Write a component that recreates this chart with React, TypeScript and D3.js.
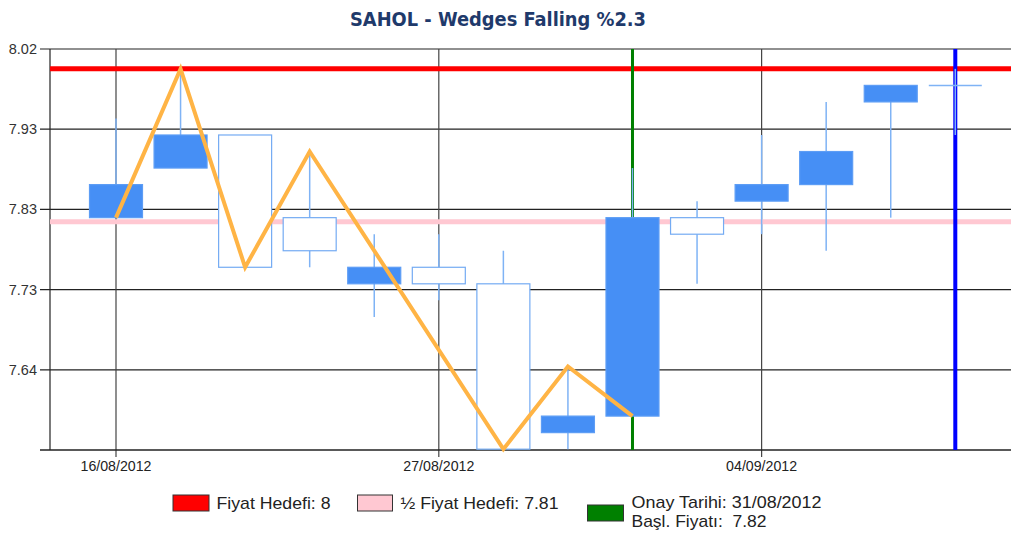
import React from "react";
import * as d3 from "d3";

const dates = [
  "16/08/2012", "17/08/2012", "22/08/2012", "23/08/2012", "24/08/2012",
  "27/08/2012", "28/08/2012", "29/08/2012", "31/08/2012", "03/09/2012",
  "04/09/2012", "05/09/2012", "06/09/2012", "07/09/2012",
];
const opens = [7.82, 7.88, 7.92, 7.82, 7.74, 7.76, 7.74, 7.56, 7.58, 7.82, 7.84, 7.86, 7.96, 7.98];
const highs = [7.94, 8.0, 7.92, 7.9, 7.8, 7.8, 7.78, 7.64, 7.88, 7.84, 7.92, 7.96, 7.98, 8.0];
const lows = [7.82, 7.88, 7.76, 7.76, 7.7, 7.72, 7.54, 7.54, 7.58, 7.74, 7.8, 7.78, 7.82, 7.92];
const closes = [7.86, 7.92, 7.76, 7.78, 7.76, 7.74, 7.54, 7.58, 7.82, 7.8, 7.86, 7.9, 7.98, 7.98];

const yTickValues = [8.024, 7.927, 7.83, 7.733, 7.636];
const yTickLabels = ["8.02", "7.93", "7.83", "7.73", "7.64"];
const yDomain = [7.539, 8.024];
const xTickIndex = [0, 5, 10];

const wedgeIndex = [0, 1, 2, 3, 6, 7, 8];
const wedgeValues = [7.82, 8.0, 7.76, 7.9, 7.54, 7.64, 7.58];

const targetPrice = 8.0;
const halfTarget = 7.815;
const confirmIndex = 8;
const endIndex = 13;

const title = "SAHOL - Wedges Falling %2.3";
const legendTarget = "Fiyat Hedefi: 8";
const legendHalf = "½ Fiyat Hedefi: 7.81";
const legendConfirm1 = "Onay Tarihi: 31/08/2012";
const legendConfirm2 = "Başl. Fiyatı:  7.82";

export default function App() {
  const W = 1011, H = 533;
  const left = 50, top = 49, bottom = 450, right = 1011;
  const x = d3.scaleLinear().domain([0, dates.length - 1]).range([116, 955.3]);
  const y = d3.scaleLinear().domain(yDomain).range([bottom, top]);
  const bw = 53;
  const font = "'Liberation Sans', Arial, sans-serif";
  const fillBlue = "#468ff5";
  const strokeBlue = "#74abf3";
  const wickBlue = "#7fb3f5";

  const wedgeLine = d3.line<number>()
    .x((_, i) => x(wedgeIndex[i]))
    .y((v) => y(v))(wedgeValues);

  return (
    <svg width={W} height={H} style={{ position: "absolute", left: 0, top: 0, background: "#fff" }}>
      <text x={498} y={26} textAnchor="middle" fontFamily="'DejaVu Sans Condensed', 'DejaVu Sans', sans-serif"
        fontWeight="bold" fontSize={19} fill="#1f3a6b" textLength={296} lengthAdjust="spacingAndGlyphs">{title}</text>

      {/* horizontal grid + y ticks */}
      {yTickValues.map((v, i) => (
        <g key={"yt" + i}>
          <line x1={40} x2={right} y1={y(v)} y2={y(v)} stroke="#222" strokeWidth={1.2} />
          <text x={37} y={y(v) + 5} textAnchor="end" fontFamily={font} fontSize={14.5} fill="#333">{yTickLabels[i]}</text>
        </g>
      ))}
      {/* vertical grid + x ticks */}
      {xTickIndex.map((idx) => (
        <g key={"xt" + idx}>
          <line x1={x(idx)} x2={x(idx)} y1={top} y2={bottom + 7} stroke="#444" strokeWidth={1.2} />
          <text x={x(idx)} y={471} textAnchor="middle" fontFamily={font} fontSize={15} fill="#222"
            textLength={71} lengthAdjust="spacingAndGlyphs">{dates[idx]}</text>
        </g>
      ))}
      {/* axes */}
      <line x1={left} x2={left} y1={top} y2={bottom} stroke="#222" strokeWidth={1.2} />
      <line x1={40} x2={right} y1={bottom} y2={bottom} stroke="#222" strokeWidth={1.5} />

      {/* reference lines */}
      <line x1={left} x2={right} y1={y(halfTarget)} y2={y(halfTarget)} stroke="#ffc8d2" strokeWidth={5} />
      <line x1={left} x2={right} y1={y(targetPrice)} y2={y(targetPrice)} stroke="#ff0000" strokeWidth={5} />
      <line x1={x(confirmIndex)} x2={x(confirmIndex)} y1={top} y2={bottom} stroke="#008000" strokeWidth={3} />
      <line x1={x(endIndex)} x2={x(endIndex)} y1={top} y2={bottom} stroke="#0000ff" strokeWidth={4} />

      {/* candles */}
      {dates.map((d, i) => {
        const o = opens[i], c = closes[i], h = highs[i], l = lows[i];
        const cx = x(i);
        const up = c > o;
        const yTop = y(Math.max(o, c));
        const yBot = y(Math.min(o, c));
        return (
          <g key={"c" + i}>
            <line x1={cx} x2={cx} y1={y(h)} y2={y(l)} stroke={wickBlue} strokeWidth={1.5} />
            {o === c ? (
              <line x1={cx - bw / 2} x2={cx + bw / 2} y1={yTop} y2={yTop} stroke={wickBlue} strokeWidth={1.5} />
            ) : (
              <rect x={cx - bw / 2} y={yTop} width={bw} height={yBot - yTop}
                fill={up ? fillBlue : "#ffffff"} stroke={up ? "#5d9df5" : strokeBlue} strokeWidth={1.2} />
            )}
          </g>
        );
      })}

      {/* wedge line */}
      <path d={wedgeLine || ""} fill="none" stroke="#ffb445" strokeWidth={4} strokeLinejoin="miter" />

      {/* legend */}
      <rect x={173} y={495} width={36} height={16} fill="#ff0000" stroke="#333" strokeWidth={1} />
      <text x={216.5} y={509} fontFamily={font} fontSize={17} fill="#222" textLength={114} lengthAdjust="spacingAndGlyphs">{legendTarget}</text>
      <rect x={357.5} y={495} width={35} height={16} fill="#ffc8d2" stroke="#333" strokeWidth={1} />
      <text x={400.5} y={509} fontFamily={font} fontSize={17} fill="#222" textLength={158} lengthAdjust="spacingAndGlyphs">{legendHalf}</text>
      <rect x={587.5} y={505} width={36} height={16} fill="#008000" stroke="#333" strokeWidth={1} />
      <text x={631.5} y={508} fontFamily={font} fontSize={17} fill="#222" textLength={190} lengthAdjust="spacingAndGlyphs">{legendConfirm1}</text>
      <text x={631.5} y={527} fontFamily={font} fontSize={17} fill="#222" textLength={135} lengthAdjust="spacingAndGlyphs" xmlSpace="preserve">{legendConfirm2}</text>
    </svg>
  );
}
